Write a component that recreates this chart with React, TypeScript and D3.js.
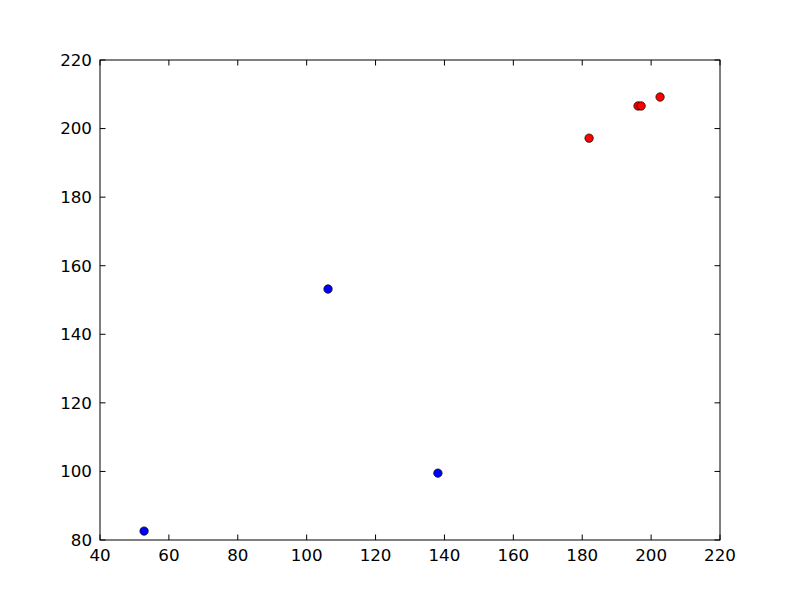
import React from "react";
import * as d3 from "d3";

const blueX = [52.8, 106.2, 138.1];
const blueY = [82.6, 153.2, 99.5];
const redX = [182.0, 196.2, 197.1, 202.6];
const redY = [197.2, 206.6, 206.6, 209.2];
const xTicks = [40, 60, 80, 100, 120, 140, 160, 180, 200, 220];
const yTicks = [80, 100, 120, 140, 160, 180, 200, 220];

export default function App() {
  const W = 800, H = 600;
  const L = 100, R = 720, T = 60, B = 540;
  const x = d3.scaleLinear().domain([40, 220]).range([L, R]);
  const y = d3.scaleLinear().domain([80, 220]).range([B, T]);
  const tl = 5.5;
  const font = "DejaVu Sans, sans-serif";
  const fs = 16.7;
  return (
    <svg width={W} height={H} style={{ position: "absolute", left: 0, top: 0, background: "#fff" }}>
      <rect x={0} y={0} width={W} height={H} fill="#fff" />
      {xTicks.map((t) => (
        <g key={"x" + t}>
          <line x1={x(t)} x2={x(t)} y1={B} y2={B - tl} stroke="#000" strokeWidth={1} />
          <line x1={x(t)} x2={x(t)} y1={T} y2={T + tl} stroke="#000" strokeWidth={1} />
          <text x={x(t)} y={B + 8} dy="0.75em" textAnchor="middle" fontFamily={font} fontSize={fs}>{t}</text>
        </g>
      ))}
      {yTicks.map((t) => (
        <g key={"y" + t}>
          <line x1={L} x2={L + tl} y1={y(t)} y2={y(t)} stroke="#000" strokeWidth={1} />
          <line x1={R} x2={R - tl} y1={y(t)} y2={y(t)} stroke="#000" strokeWidth={1} />
          <text x={L - 8} y={y(t)} dy="0.35em" textAnchor="end" fontFamily={font} fontSize={fs}>{t}</text>
        </g>
      ))}
      <rect x={L} y={T} width={R - L} height={B - T} fill="none" stroke="#000" strokeWidth={1} />
      {blueX.map((v, i) => (
        <circle key={"b" + i} cx={x(v)} cy={y(blueY[i])} r={4.2} fill="#0000ff" stroke="#000" strokeWidth={0.7} />
      ))}
      {redX.map((v, i) => (
        <circle key={"r" + i} cx={x(v)} cy={y(redY[i])} r={4.2} fill="#ff0000" stroke="#000" strokeWidth={0.7} />
      ))}
    </svg>
  );
}
